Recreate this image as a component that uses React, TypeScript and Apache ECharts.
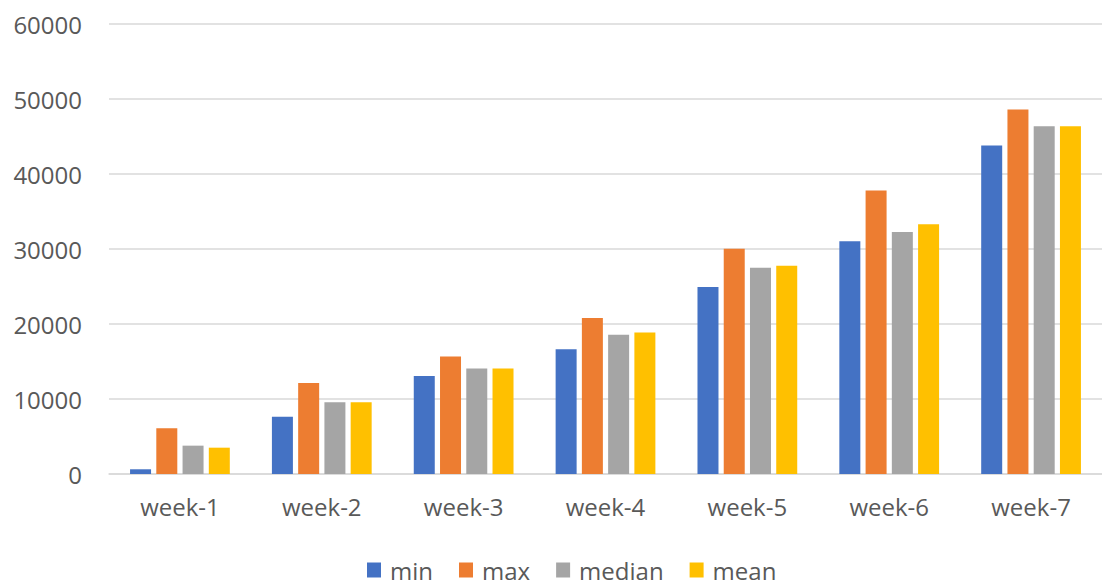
import React, { useEffect, useRef } from "react";
import * as echarts from "echarts";

const weeks = ["week-1", "week-2", "week-3", "week-4", "week-5", "week-6", "week-7"];
const minValues = [630, 7650, 13080, 16650, 24930, 31020, 43790];
const maxValues = [6100, 12150, 15660, 20790, 30040, 37790, 48600];
const medianValues = [3780, 9570, 14060, 18560, 27500, 32270, 46370];
const meanValues = [3510, 9570, 14060, 18870, 27770, 33290, 46370];
const yTicks = { min: 0, max: 60000, interval: 10000 };

const seriesDefs = [
  { name: "min", data: minValues, color: "#4472C4" },
  { name: "max", data: maxValues, color: "#ED7D31" },
  { name: "median", data: medianValues, color: "#A5A5A5" },
  { name: "mean", data: meanValues, color: "#FFC000" },
];

const FONT = "'Open Sans', sans-serif";
const TEXT = "#595959";

export default function App() {
  const ref = useRef<HTMLDivElement>(null);

  useEffect(() => {
    if (!ref.current) return;
    const chart = echarts.init(ref.current, undefined, { renderer: "svg" });
    chart.setOption({
      animation: false,
      backgroundColor: "#ffffff",
      grid: { left: 109, top: 24, width: 996, height: 450, containLabel: false },
      legend: {
        top: 558,
        left: 367,
        padding: 0,
        itemWidth: 14,
        itemHeight: 15,
        itemGap: 26,
        icon: "rect",
        textStyle: { fontFamily: FONT, fontSize: 24, color: TEXT, padding: [0, 0, 0, 4] },
        data: seriesDefs.map((s) => s.name),
      },
      xAxis: {
        type: "category",
        data: weeks,
        axisLine: { show: true, lineStyle: { color: "#d9d9d9", width: 1.5 } },
        axisTick: { show: false },
        axisLabel: { fontFamily: FONT, fontSize: 24, color: TEXT, margin: 20 },
      },
      yAxis: {
        type: "value",
        min: yTicks.min,
        max: yTicks.max,
        interval: yTicks.interval,
        axisLine: { show: false },
        axisTick: { show: false },
        splitLine: { lineStyle: { color: "#d9d9d9", width: 1.5 } },
        axisLabel: {
          fontFamily: FONT,
          fontSize: 24,
          color: TEXT,
          margin: 27,
          formatter: (v: number) => String(v),
        },
      },
      series: seriesDefs.map((s) => ({
        name: s.name,
        type: "bar",
        data: s.data,
        barWidth: 21,
        barGap: "25%",
        itemStyle: { color: s.color },
      })),
    });
    return () => chart.dispose();
  }, []);

  return (
    <div
      ref={ref}
      style={{ position: "absolute", left: 0, top: 0, width: 1102, height: 585, background: "#fff" }}
    />
  );
}
